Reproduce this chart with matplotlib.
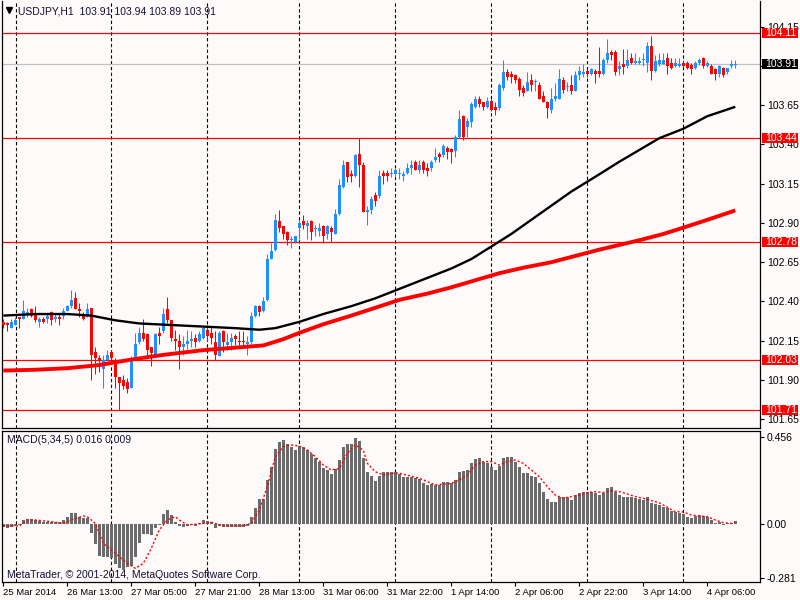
import matplotlib
matplotlib.use("Agg")
import matplotlib.pyplot as plt
from matplotlib.patches import Rectangle
from matplotlib.transforms import blended_transform_factory
import numpy as np

# USDJPY H1 candles (bar 0 = 25 Mar 21:00)
opens = [102.27, 102.26, 102.23, 102.25, 102.30, 102.29, 102.32, 102.35, 102.32, 102.27,
         102.29, 102.29, 102.33, 102.29, 102.30, 102.31, 102.34, 102.37, 102.42, 102.35,
         102.32, 102.30, 102.36, 102.08, 102.04, 101.97, 102.03, 102.08, 102.03, 101.92,
         101.90, 101.89, 101.85, 102.04, 102.14, 102.20, 102.19, 102.11, 102.06, 102.20,
         102.21, 102.35, 102.28, 102.16, 102.15, 102.11, 102.13, 102.15, 102.17, 102.15,
         102.17, 102.22, 102.20, 102.14, 102.05, 102.21, 102.12, 102.14, 102.18, 102.15,
         102.15, 102.13, 102.14, 102.31, 102.37, 102.34, 102.41, 102.67, 102.73, 102.91,
         102.88, 102.84, 102.79, 102.78, 102.87, 102.91, 102.88, 102.91, 102.86, 102.85,
         102.88, 102.83, 102.87, 102.83, 102.96, 103.13, 103.29, 103.21, 103.20, 103.34,
         103.27, 102.97, 102.98, 103.08, 103.07, 103.22, 103.22, 103.21, 103.21, 103.21,
         103.20, 103.22, 103.25, 103.29, 103.24, 103.29, 103.25, 103.25, 103.30, 103.34,
         103.33, 103.38, 103.37, 103.36, 103.45, 103.58, 103.51, 103.54, 103.64, 103.69,
         103.67, 103.64, 103.68, 103.64, 103.63, 103.76, 103.86, 103.85, 103.84, 103.82,
         103.76, 103.74, 103.81, 103.795, 103.78, 103.71, 103.67, 103.62, 103.69, 103.69,
         103.81, 103.765, 103.78, 103.74, 103.84, 103.85, 103.87, 103.85, 103.87, 103.87,
         103.85, 103.94, 103.99, 103.99, 103.88, 103.91, 103.90, 103.95, 103.92, 103.92,
         103.935, 103.92, 104.03, 103.87, 103.91, 103.91, 103.95, 103.92, 103.90, 103.90,
         103.92, 103.917, 103.906, 103.885, 103.917, 103.95, 103.90, 103.90, 103.88, 103.85,
         103.89, 103.86, 103.90, 103.905]
highs = [102.29, 102.27, 102.29, 102.30, 102.30, 102.41, 102.36, 102.36, 102.37, 102.30,
         102.30, 102.32, 102.34, 102.32, 102.32, 102.36, 102.38, 102.47, 102.46, 102.39,
         102.33, 102.39, 102.36, 102.11, 102.06, 102.06, 102.09, 102.09, 102.04, 101.92,
         101.93, 101.91, 102.05, 102.20, 102.24, 102.29, 102.20, 102.11, 102.20, 102.24,
         102.36, 102.43, 102.28, 102.22, 102.19, 102.18, 102.22, 102.21, 102.19, 102.21,
         102.24, 102.25, 102.24, 102.21, 102.21, 102.22, 102.20, 102.20, 102.19, 102.21,
         102.21, 102.18, 102.33, 102.38, 102.38, 102.43, 102.70, 102.77, 102.96, 102.98,
         102.88, 102.85, 102.82, 102.82, 102.92, 102.95, 102.92, 102.92, 102.89, 102.90,
         102.89, 102.89, 102.88, 102.99, 103.18, 103.30, 103.29, 103.24, 103.34, 103.44,
         103.29, 103.01, 103.07, 103.10, 103.24, 103.24, 103.24, 103.25, 103.25, 103.25,
         103.23, 103.28, 103.30, 103.30, 103.30, 103.30, 103.28, 103.30, 103.38, 103.35,
         103.40, 103.39, 103.38, 103.46, 103.62, 103.59, 103.57, 103.67, 103.71, 103.71,
         103.67, 103.70, 103.69, 103.67, 103.79, 103.94, 103.88, 103.87, 103.85, 103.83,
         103.78, 103.86, 103.85, 103.82, 103.80, 103.74, 103.68, 103.76, 103.79, 103.88,
         103.83, 103.80, 103.84, 103.87, 103.90, 103.91, 103.88, 103.885, 103.88, 104.02,
         103.95, 104.07, 104.00, 104.00, 103.93, 104.01, 104.01, 103.98, 103.98, 103.96,
         103.98, 104.05, 104.09, 103.97, 103.98, 103.98, 103.98, 103.95, 103.95, 103.95,
         103.94, 103.93, 103.916, 103.93, 103.95, 103.955, 103.93, 103.91, 103.89, 103.906,
         103.895, 103.89, 103.94, 103.94]
lows = [102.23, 102.21, 102.23, 102.25, 102.23, 102.29, 102.30, 102.30, 102.27, 102.24,
        102.26, 102.26, 102.25, 102.27, 102.25, 102.29, 102.34, 102.36, 102.35, 102.30,
        102.28, 102.30, 101.90, 101.94, 101.95, 101.85, 102.02, 102.01, 101.85, 101.71,
        101.84, 101.82, 101.85, 102.03, 102.13, 102.15, 102.05, 101.99, 102.05, 102.13,
        102.20, 102.26, 102.15, 102.09, 101.97, 102.06, 102.10, 102.11, 102.11, 102.14,
        102.16, 102.15, 102.13, 102.03, 102.05, 102.08, 102.09, 102.09, 102.12, 102.12,
        102.11, 102.06, 102.13, 102.30, 102.31, 102.33, 102.40, 102.67, 102.72, 102.84,
        102.80, 102.76, 102.74, 102.77, 102.80, 102.86, 102.80, 102.79, 102.82, 102.82,
        102.77, 102.80, 102.78, 102.83, 102.95, 103.12, 103.16, 103.16, 103.19, 103.13,
        102.97, 102.89, 102.96, 103.01, 103.06, 103.15, 103.17, 103.19, 103.19, 103.18,
        103.17, 103.21, 103.21, 103.24, 103.22, 103.22, 103.20, 103.23, 103.29, 103.29,
        103.32, 103.31, 103.28, 103.32, 103.44, 103.43, 103.45, 103.51, 103.63, 103.64,
        103.62, 103.63, 103.61, 103.59, 103.62, 103.75, 103.81, 103.79, 103.79, 103.71,
        103.71, 103.74, 103.74, 103.74, 103.69, 103.67, 103.57, 103.60, 103.68, 103.69,
        103.73, 103.74, 103.72, 103.74, 103.81, 103.83, 103.83, 103.84, 103.79, 103.83,
        103.84, 103.92, 103.94, 103.84, 103.84, 103.85, 103.89, 103.91, 103.91, 103.91,
        103.90, 103.86, 103.81, 103.86, 103.90, 103.91, 103.85, 103.88, 103.895, 103.895,
        103.895, 103.88, 103.85, 103.88, 103.906, 103.89, 103.895, 103.85, 103.81, 103.83,
        103.83, 103.85, 103.89, 103.89]
closes = [102.25, 102.25, 102.27, 102.28, 102.29, 102.34, 102.33, 102.31, 102.28, 102.29,
          102.27, 102.31, 102.28, 102.30, 102.29, 102.34, 102.37, 102.41, 102.35, 102.34,
          102.29, 102.35, 102.06, 102.04, 102.02, 102.03, 102.06, 102.04, 101.92, 101.88,
          101.86, 101.84, 102.02, 102.13, 102.20, 102.16, 102.09, 102.07, 102.19, 102.18,
          102.32, 102.28, 102.17, 102.15, 102.11, 102.13, 102.15, 102.16, 102.14, 102.19,
          102.23, 102.18, 102.17, 102.06, 102.20, 102.14, 102.14, 102.17, 102.16, 102.14,
          102.14, 102.14, 102.31, 102.37, 102.33, 102.40, 102.67, 102.72, 102.92, 102.87,
          102.83, 102.79, 102.80, 102.82, 102.90, 102.89, 102.90, 102.84, 102.87, 102.87,
          102.82, 102.88, 102.84, 102.96, 103.14, 103.27, 103.19, 103.20, 103.33, 103.27,
          102.97, 102.98, 103.05, 103.04, 103.20, 103.20, 103.20, 103.22, 103.24, 103.22,
          103.21, 103.25, 103.27, 103.24, 103.27, 103.24, 103.23, 103.29, 103.32, 103.32,
          103.39, 103.35, 103.355, 103.45, 103.56, 103.45, 103.55, 103.66, 103.69, 103.66,
          103.64, 103.68, 103.62, 103.62, 103.78, 103.86, 103.83, 103.83, 103.81, 103.75,
          103.73, 103.80, 103.78, 103.80, 103.69, 103.67, 103.63, 103.69, 103.71, 103.82,
          103.75, 103.77, 103.74, 103.84, 103.87, 103.86, 103.85, 103.88, 103.85, 103.85,
          103.94, 103.98, 103.97, 103.86, 103.90, 103.895, 103.94, 103.92, 103.93, 103.93,
          103.94, 104.03, 103.87, 103.93, 103.94, 103.94, 103.90, 103.885, 103.92, 103.91,
          103.90, 103.885, 103.88, 103.92, 103.94, 103.90, 103.916, 103.85, 103.85, 103.90,
          103.84, 103.885, 103.91, 103.91]

# moving averages (sampled along the lines)
ma_fast_bars = [0, 8, 16, 22, 28, 34, 42, 50, 58, 64, 68, 74, 80, 87, 93, 99, 105, 112, 117, 122, 127,
                132, 137, 142, 149, 154, 159, 164, 170, 176, 183]
ma_fast = [102.31, 102.32, 102.32, 102.31, 102.28, 102.26, 102.25, 102.24, 102.23, 102.22, 102.23,
           102.27, 102.32, 102.37, 102.42, 102.48, 102.54, 102.61, 102.67, 102.75, 102.83,
           102.92, 103.01, 103.10, 103.21, 103.29, 103.365, 103.44, 103.50, 103.58, 103.64]
ma_slow_bars = [0, 8, 16, 24, 32, 40, 50, 60, 65, 70, 74, 80, 87, 93, 99, 106, 112, 118, 124, 130, 137,
                143, 149, 154, 159, 165, 170, 176, 183]
ma_slow = [101.96, 101.965, 101.975, 101.995, 102.03, 102.06, 102.09, 102.11, 102.12, 102.16, 102.20,
           102.255, 102.31, 102.36, 102.41, 102.45, 102.49, 102.535, 102.58, 102.615, 102.65,
           102.69, 102.73, 102.76, 102.79, 102.83, 102.87, 102.92, 102.98]

# MACD(5,34,5) histogram per bar and signal line samples
macd = [-0.014, -0.020, -0.014, -0.010, -0.005, 0.021, 0.026, 0.026, 0.021, 0.016,
        0.012, 0.012, 0.009, 0.009, 0.009, 0.021, 0.035, 0.056, 0.056, 0.038,
        0.033, 0.033, -0.049, -0.104, -0.167, -0.174, -0.174, -0.176, -0.211, -0.232,
        -0.240, -0.223, -0.219, -0.171, -0.101, -0.052, -0.052, -0.057, -0.023, -0.005,
        0.050, 0.073, 0.047, 0.012, -0.010, -0.014, -0.010, -0.005, -0.010, 0.003,
        0.021, 0.017, 0.009, -0.023, -0.009, -0.017, -0.017, -0.014, -0.014, -0.014,
        -0.014, -0.010, 0.038, 0.082, 0.129, 0.129, 0.230, 0.299, 0.390, 0.430,
        0.439, 0.418, 0.400, 0.386, 0.407, 0.400, 0.386, 0.364, 0.343, 0.326,
        0.294, 0.282, 0.261, 0.286, 0.334, 0.400, 0.418, 0.418, 0.447, 0.435,
        0.343, 0.270, 0.251, 0.226, 0.251, 0.270, 0.270, 0.270, 0.270, 0.260,
        0.247, 0.244, 0.247, 0.239, 0.233, 0.216, 0.204, 0.209, 0.204, 0.204,
        0.221, 0.218, 0.212, 0.230, 0.273, 0.279, 0.282, 0.317, 0.338, 0.343,
        0.326, 0.320, 0.300, 0.282, 0.303, 0.343, 0.348, 0.348, 0.326, 0.300,
        0.265, 0.268, 0.251, 0.244, 0.212, 0.169, 0.129, 0.117, 0.117, 0.143,
        0.139, 0.139, 0.125, 0.151, 0.164, 0.167, 0.169, 0.169, 0.164, 0.151,
        0.164, 0.186, 0.195, 0.169, 0.151, 0.143, 0.143, 0.143, 0.134, 0.129,
        0.125, 0.143, 0.111, 0.104, 0.099, 0.091, 0.082, 0.070, 0.063, 0.056,
        0.050, 0.038, 0.030, 0.044, 0.045, 0.042, 0.038, 0.021, 0.007, 0.009,
        -0.003, 0.003, 0.003, 0.016]
signal_bars = [0, 4, 6, 8, 12, 15, 17, 20, 21, 23, 25, 28, 31, 33, 35, 37, 39, 41, 43, 44, 46, 50, 52, 55,
               60, 62, 64, 66, 68, 70, 72, 74, 76, 78, 80, 82, 84, 86, 88, 90, 91, 93, 95, 97, 99, 100,
               104, 108, 112, 114, 116, 118, 120, 122, 124, 126, 128, 130, 132, 134, 136, 138, 140, 142,
               144, 146, 148, 150, 152, 154, 156, 158, 160, 162, 164, 166, 168, 170, 172, 174, 176, 178,
               180, 182, 183]
signal = [-0.009, -0.010, 0.021, 0.021, 0.012, 0.003, 0.021, 0.042, 0.038, 0.003, -0.101, -0.153, -0.206,
          -0.232, -0.206, -0.127, -0.031, 0.021, 0.038, 0.021, -0.005, 0.003, 0.009, -0.010,
          -0.010, 0.003, 0.073, 0.195, 0.352, 0.404, 0.413, 0.407, 0.386, 0.352, 0.308, 0.282, 0.290,
          0.369, 0.413, 0.386, 0.317, 0.273, 0.256, 0.265, 0.265, 0.260,
          0.239, 0.204, 0.212, 0.230, 0.256, 0.308, 0.326, 0.326, 0.308, 0.326, 0.334, 0.317, 0.282,
          0.247, 0.195, 0.151, 0.134, 0.143, 0.151, 0.164, 0.169, 0.164, 0.174, 0.169, 0.157, 0.143,
          0.134, 0.122, 0.111, 0.087, 0.064, 0.063, 0.047, 0.042, 0.038, 0.021, 0.007, 0.003, 0.009]

level_lines = [104.11, 103.44, 102.78, 102.03, 101.71]
bid = 103.91
price_ticks = [101.65, 101.90, 102.15, 102.40, 102.65, 102.90, 103.15, 103.40, 103.65, 103.90, 104.15]
price_tick_labels = ["101.65", "101.90", "102.15", "102.40", "102.65", "102.90", "103.15", "103.40",
                     "103.65", "", "104.15"]
macd_ticks = [0.456, 0.0, -0.281]
macd_tick_labels = ["0.456", "0.00", "-0.281"]
time_tick_bars = [0, 16, 32, 48, 64, 80, 96, 112, 128, 144, 160, 176]
time_labels = ["25 Mar 2014", "26 Mar 13:00", "27 Mar 05:00", "27 Mar 21:00", "28 Mar 13:00",
               "31 Mar 06:00", "31 Mar 22:00", "1 Apr 14:00", "2 Apr 06:00", "2 Apr 22:00",
               "3 Apr 14:00", "4 Apr 06:00"]
day_breaks = [3.1, 27, 51, 74, 98, 122, 146, 170]

plt.rcParams['font.family'] = ['Liberation Sans', 'DejaVu Sans']
BG = '#fffafa'
UP = '#1e90ff'
DOWN = '#ff0000'
FS = 7.5

W, H = 800, 600
fig = plt.figure(figsize=(8, 6), dpi=100, facecolor=BG)
ax = fig.add_axes([2 / W, 1 - 428 / H, 758 / W, 427 / H], facecolor=BG)
ax2 = fig.add_axes([2 / W, 1 - 582 / H, 758 / W, 151 / H], facecolor=BG)

n = len(closes)
x = np.arange(n)
o = np.array(opens)
c = np.array(closes)
hi = np.maximum(np.array(highs), np.maximum(o, c))
lo = np.minimum(np.array(lows), np.minimum(o, c))
up = c >= o
cols = np.where(up, UP, DOWN)

ppx = 157.0  # pixels per price unit
xlim = ((2 - 3.3) / 4, (760 - 3.3) / 4)
ax.set_xlim(*xlim)
ax.set_ylim(104.11 - 395 / ppx, 104.11 + 32 / ppx)

# candles
ax.vlines(x, lo, hi, colors=cols, lw=0.75, zorder=3)
body = np.maximum(np.abs(c - o), 1.0 / ppx)
ax.bar(x, body, bottom=np.minimum(o, c), width=0.72, color=cols, lw=0, zorder=3)

# moving averages
ax.plot(ma_fast_bars, ma_fast, color='black', lw=1.7, zorder=4, solid_capstyle='butt')
ax.plot(ma_slow_bars, ma_slow, color='#ff0000', lw=2.8, zorder=4, solid_capstyle='butt')

# horizontal levels and bid line
for lv in level_lines:
    ax.axhline(lv, color='#ff0000', lw=0.9, zorder=2)
ax.axhline(bid, color='#c0c0c0', lw=0.9, zorder=1.5)

# vertical day separators
for a in (ax, ax2):
    for d in day_breaks:
        a.axvline(d, color='black', lw=0.8, ls=(0, (3, 2.2)), zorder=1)

# price axis
ax.yaxis.tick_right()
ax.set_yticks(price_ticks)
ax.set_yticklabels(price_tick_labels)
ax.tick_params(axis='y', direction='out', length=3, width=0.8, pad=2, labelsize=FS)
ax.set_xticks([])
ax.spines['top'].set_visible(False)
for s in ('left', 'right', 'bottom'):
    ax.spines[s].set_linewidth(0.9)

# price boxes on the right scale
tr = blended_transform_factory(fig.transFigure, ax.transData)
box_h = 10 / ppx
for lv in level_lines + [bid]:
    fc = 'black' if lv == bid else '#ff0000'
    ax.add_patch(Rectangle((762 / W, lv - box_h / 2), 36 / W, box_h, transform=tr,
                           facecolor=fc, edgecolor='none', clip_on=False, zorder=6))
    ax.text(765 / W, lv, "%.2f" % lv, transform=tr, color='white', fontsize=FS,
            va='center', ha='left', clip_on=False, zorder=7)

# chart title
ax.plot([9 / W], [1 - 10 / H], marker='v', color='black', ms=4, transform=fig.transFigure, clip_on=False)
fig.text(18 / W, 1 - 11 / H, "USDJPY,H1  103.91 103.94 103.89 103.91", fontsize=FS,
         color='#101030', va='center', ha='left')

# MACD panel
mpx = 0.005223  # MACD units per pixel
ax2.set_xlim(*xlim)
ax2.set_ylim(-58 * mpx, 93 * mpx)
ax2.bar(x, macd, width=0.72, color='#6b6b6b', lw=0, zorder=2)
ax2.plot(signal_bars, signal, color='#ff0000', lw=1.0, ls=(0, (1.5, 1.5)), zorder=3)
ax2.yaxis.tick_right()
ax2.set_yticks(macd_ticks)
ax2.set_yticklabels(macd_tick_labels)
ax2.tick_params(axis='y', direction='out', length=3, width=0.8, pad=2, labelsize=FS)
ax2.set_xticks(time_tick_bars)
ax2.set_xticklabels(time_labels, ha='left')
ax2.tick_params(axis='x', direction='out', length=3, width=0.8, pad=1.5, labelsize=6.8)
for s in ax2.spines.values():
    s.set_linewidth(0.9)
ax2.text(7 / W, 1 - 440 / H, "MACD(5,34,5) 0.016 0.009", transform=fig.transFigure,
         fontsize=FS, color='#101030', va='center', ha='left')
ax2.text(7 / W, 1 - 575 / H, "MetaTrader, \u00a9 2001-2014, MetaQuotes Software Corp.",
         transform=fig.transFigure, fontsize=FS, color='#101030', va='center', ha='left')

fig.savefig("out.png", dpi=100, facecolor=BG)
